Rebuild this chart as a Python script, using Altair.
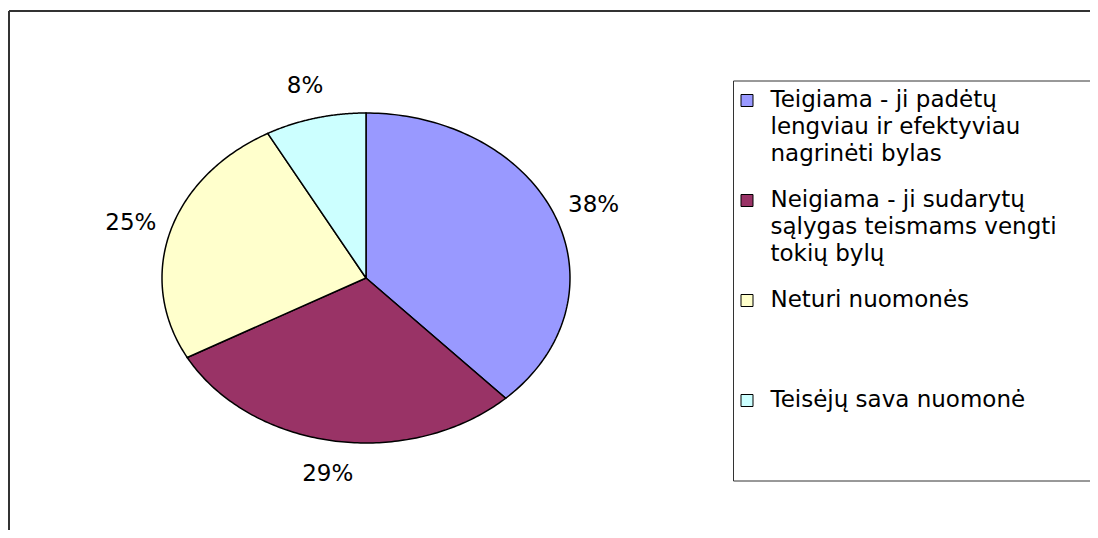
import altair as alt
import pandas as pd

categories = [
    "Teigiama - ji padėtų lengviau ir efektyviau nagrinėti bylas",
    "Neigiama - ji sudarytų sąlygas teismams vengti tokių bylų",
    "Neturi nuomonės",
    "Teisėjų sava nuomonė",
]
legend_lines = [
    ["Teigiama - ji padėtų", "lengviau ir efektyviau", "nagrinėti bylas"],
    ["Neigiama - ji sudarytų", "sąlygas teismams vengti", "tokių bylų"],
    ["Neturi nuomonės"],
    ["Teisėjų sava nuomonė"],
]
values = [38, 29, 25, 8]
colors = ["#9999FF", "#993366", "#FFFFCC", "#CCFFFF"]

df = pd.DataFrame({"cat": categories, "value": values, "idx": list(range(len(values)))})

FONT = "DejaVu Sans"
FS = 23
N = 120
W, H = 1081, 519
CX, CY = 357, 267      # pie centre inside the plot area (px)
RX, RY = 204, 165      # pie radii (px)
WIDEN = "\u00a0" * 4 + "\u200b"   # invisible tail: lets the legend frame run past the edge
BLANK = "\u200b"                   # empty line: keeps the frame's empty space below the last item


def js_str(s):
    return "'" + s.replace("'", "\\'") + "'"


label_expr = ""
for i, (c, lines) in enumerate(zip(categories, legend_lines)):
    shown = list(lines)
    if i == 1:
        shown[1] = shown[1] + WIDEN
    if i == len(categories) - 1:
        shown = shown + [BLANK, BLANK]
    arr = "[" + ",".join(js_str(l) for l in shown) + "]"
    label_expr += f"datum.label == {js_str(c)} ? {arr} : "
label_expr += "datum.label"

xscale = alt.Scale(domain=[-CX / RX, (W - CX) / RX], nice=False, zero=False)
yscale = alt.Scale(domain=[-(H - CY) / RY, CY / RY], nice=False, zero=False)

base = (
    alt.Chart(df)
    .transform_joinaggregate(total="sum(value)")
    .transform_window(cum="sum(value)", sort=[alt.SortField("idx")], frame=[None, 0])
    .transform_calculate(
        a0="2*PI*(datum.cum - datum.value)/datum.total",
        a1="2*PI*datum.cum/datum.total",
    )
)

pie = (
    base.transform_calculate(pts=f"sequence(0, {N + 2})")
    .transform_flatten(["pts"])
    .transform_calculate(
        ang=f"datum.a0 + (datum.a1 - datum.a0) * clamp(datum.pts - 1, 0, {N - 1}) / {N - 1}"
    )
    .transform_calculate(
        px=f"(datum.pts == 0 || datum.pts == {N + 1}) ? 0 : sin(datum.ang)",
        py=f"(datum.pts == 0 || datum.pts == {N + 1}) ? 0 : cos(datum.ang)",
    )
    .mark_line(stroke="black", strokeWidth=1.5, strokeJoin="miter", interpolate="linear")
    .encode(
        x=alt.X("px:Q", scale=xscale, axis=None),
        y=alt.Y("py:Q", scale=yscale, axis=None),
        order=alt.Order("pts:Q"),
        fill=alt.Fill(
            "cat:N",
            scale=alt.Scale(domain=categories, range=colors),
            legend=alt.Legend(
                title=None,
                orient="none",
                legendX=724,
                legendY=69.5,
                padding=14.5,
                strokeColor="#333333",
                fillColor="white",
                symbolType="M-3,-2L-1,-2L-1,0L-3,0Z",
                symbolSize=144,
                symbolStrokeColor="black",
                symbolStrokeWidth=1,
                symbolOpacity=1,
                labelFont=FONT,
                labelFontSize=FS,
                labelColor="black",
                labelBaseline="alphabetic",
                labelOffset=0,
                labelLimit=800,
                labelExpr=label_expr,
                rowPadding=22,
                gridAlign="all",
            ),
        ),
    )
)

labels = (
    base.transform_calculate(
        mid="(datum.a0 + datum.a1) / 2",
        txt="datum.value + '%'",
    )
    .transform_calculate(
        lx="1.2 * sin(datum.mid)",
        ly="1.2 * cos(datum.mid)",
    )
    .mark_text(font=FONT, fontSize=FS, color="black", align="center", baseline="middle")
    .encode(
        x=alt.X("lx:Q", scale=xscale, axis=None),
        y=alt.Y("ly:Q", scale=yscale, axis=None),
        text="txt:N",
    )
)

frame_left = alt.Chart(df).mark_rule(color="#333333", strokeWidth=1.5).encode(
    x=alt.value(0), y=alt.value(0), y2=alt.value(H)
)
frame_top = alt.Chart(df).mark_rule(color="#333333", strokeWidth=1.5).encode(
    y=alt.value(0), x=alt.value(0), x2=alt.value(W)
)

chart = (
    alt.layer(frame_left, frame_top, pie, labels)
    .properties(
        width=W,
        height=H,
        autosize="none",
        padding={"left": 1, "top": 3, "right": 0, "bottom": 0},
        background="white",
    )
    .configure(
        style={"guide-label": {"lineHeight": 27}},
        view=alt.ViewConfig(strokeWidth=0, stroke=None),
    )
)

chart.save("out.html", embed_options={"renderer": "svg", "actions": False})
